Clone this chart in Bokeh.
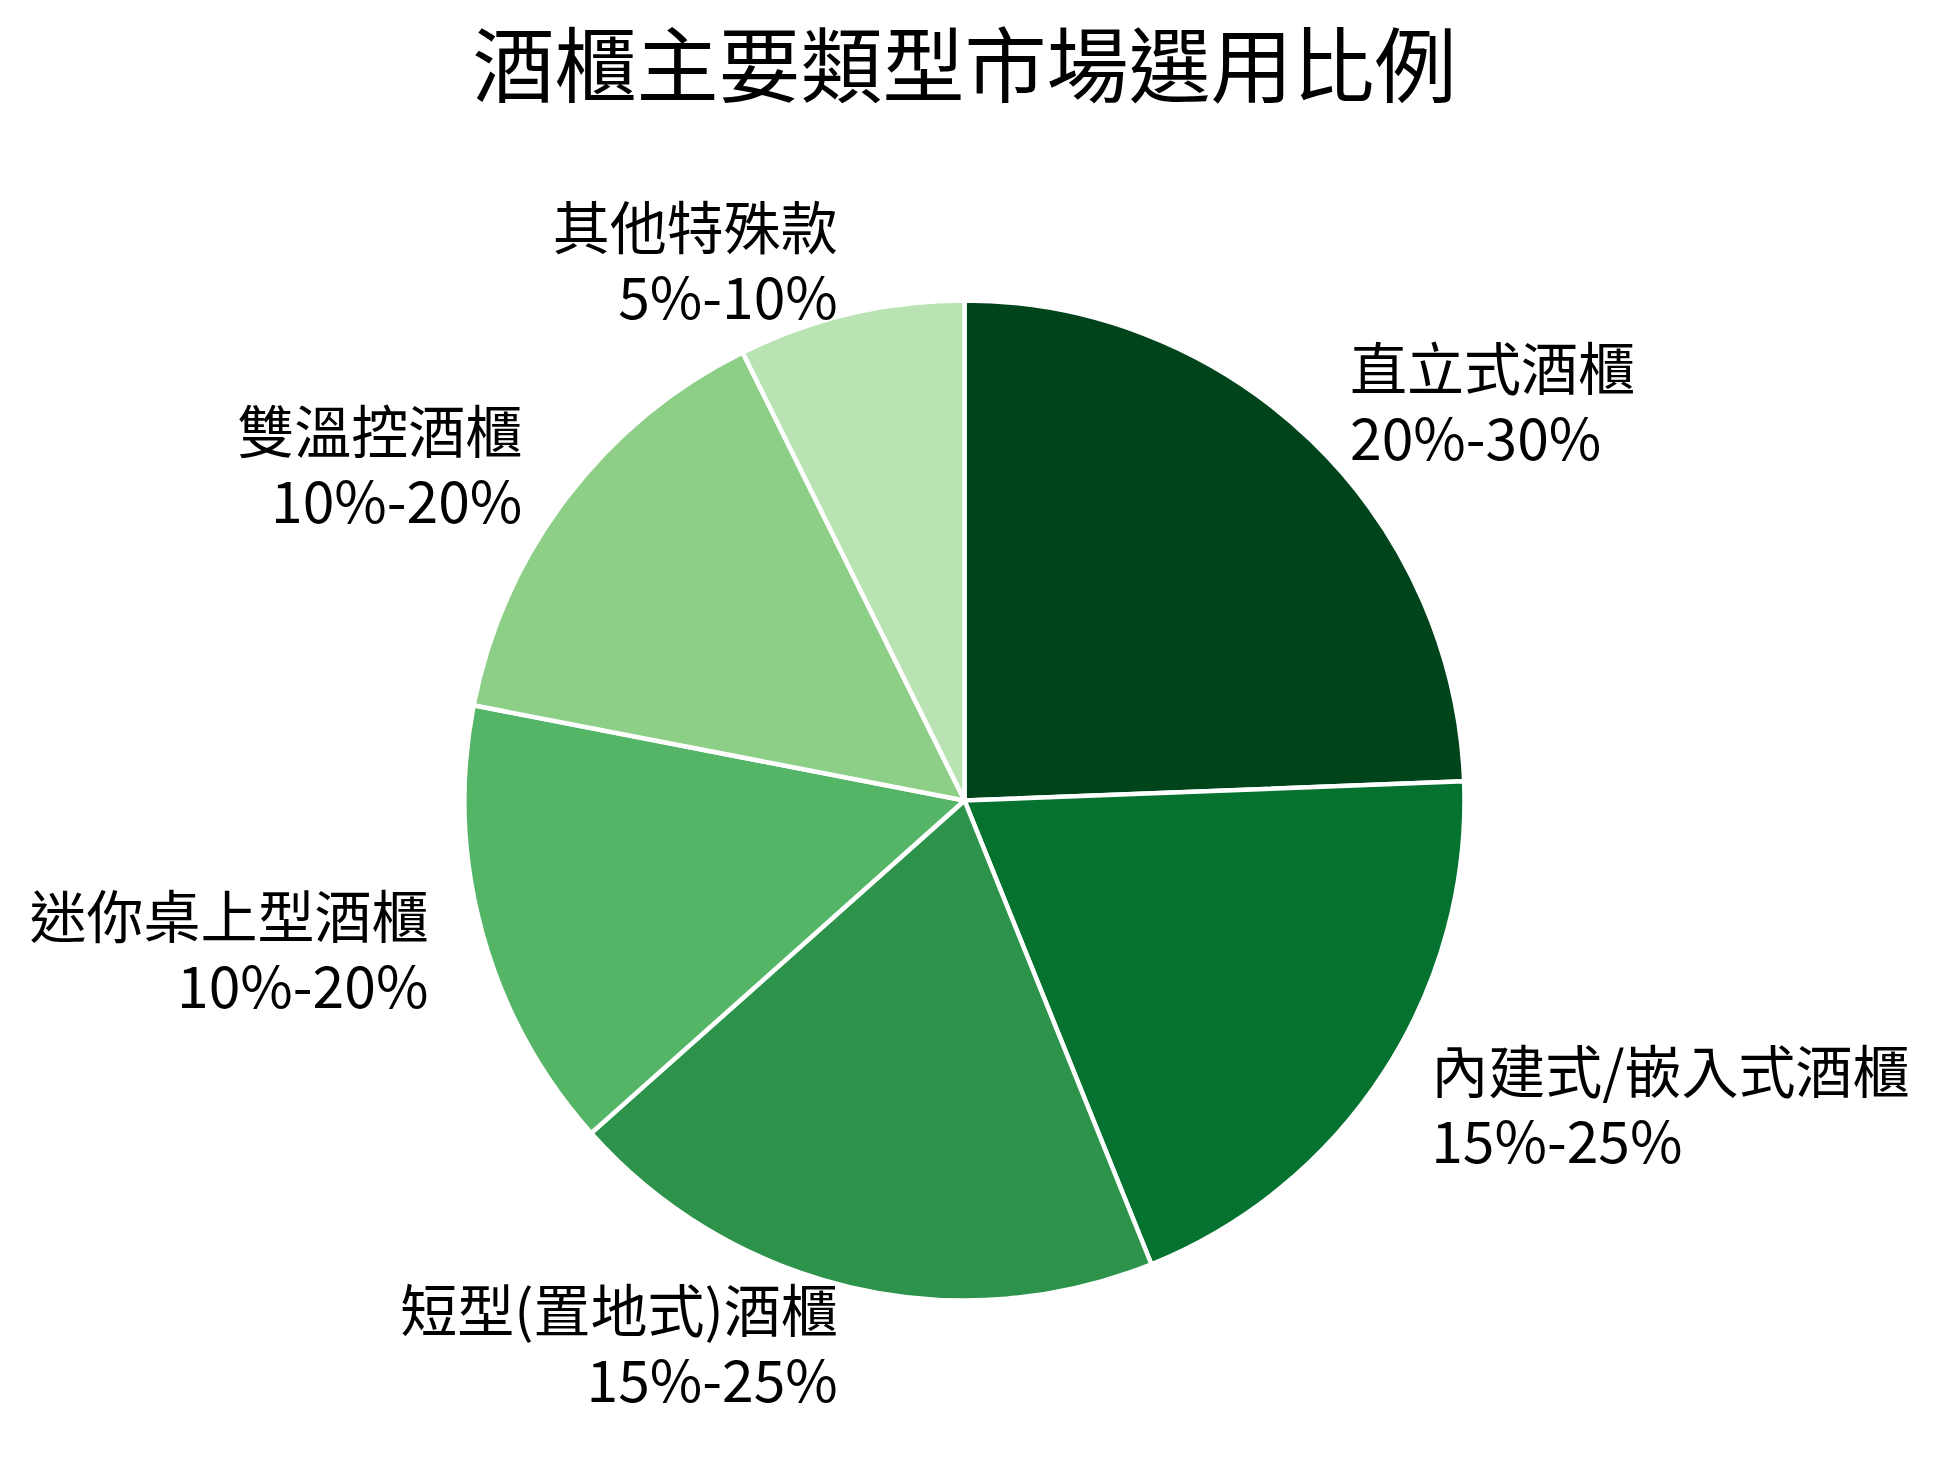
import math
from bokeh.plotting import figure
from bokeh.models import Range1d, ColumnDataSource
from bokeh.core.properties import value
from bokeh.embed import file_html
from bokeh.resources import INLINE

# ---- data ----
categories = ["直立式酒櫃", "內建式/嵌入式酒櫃", "短型(置地式)酒櫃", "迷你桌上型酒櫃", "雙溫控酒櫃", "其他特殊款"]
range_labels = ["20%-30%", "15%-25%", "15%-25%", "10%-20%", "10%-20%", "5%-10%"]
shares = [25, 20, 20, 15, 15, 7.5]
colors = ["#00441b", "#067230", "#2d934b", "#55b567", "#8ecf88", "#b9e3b3"]
title_text = "酒櫃主要類型市場選用比例"

# ---- layout (pixels) ----
W, H = 1940, 1452
MARGIN = 8
CX, CY = 972 - MARGIN, 808 - MARGIN      # pie centre inside the canvas
R_PX = 500                                # pixels per data unit (pie radius = 1)
LABEL_R = 1.112
TITLE_X_PX = 972 - MARGIN
TITLE_Y_PX = 68 - MARGIN
FONT = "Noto Sans CJK TC"

x0, x1 = -CX / R_PX, (W - CX) / R_PX
y1, y0 = CY / R_PX, -(H - CY) / R_PX

total = sum(shares)
starts, ends, mids = [], [], []
acc = 0.0
for s in shares:
    a0 = math.pi / 2 - acc / total * 2 * math.pi
    acc += s
    a1 = math.pi / 2 - acc / total * 2 * math.pi
    starts.append(a0)
    ends.append(a1)
    mids.append((a0 + a1) / 2)

lx = [LABEL_R * math.cos(m) for m in mids]
ly = [LABEL_R * math.sin(m) for m in mids]
align = ["left" if math.cos(m) > 0 else "right" for m in mids]

src = ColumnDataSource(dict(
    cat=categories, rng=range_labels, start=starts, end=ends, color=colors,
    lx=lx, ly=ly, align=align,
))

p = figure(width=W, height=H, x_range=Range1d(x0, x1), y_range=Range1d(y0, y1),
           output_backend="svg", toolbar_location=None, min_border=0,
           x_axis_location=None, y_axis_location=None)
p.grid.visible = False
p.outline_line_color = None
p.background_fill_color = "white"
p.border_fill_color = "white"

p.wedge(x=0, y=0, radius=1, start_angle="start", end_angle="end", direction="clock",
        fill_color="color", line_color="white", line_width=4.5, source=src)

p.text(x="lx", y="ly", text="cat", text_align="align", text_baseline="middle",
       y_offset=-35, text_font=value(FONT), text_font_size="57px",
       text_color="#000000", source=src)
p.text(x="lx", y="ly", text="rng", text_align="align", text_baseline="middle",
       y_offset=35, text_font=value(FONT), text_font_size="57px",
       text_color="#000000", source=src)

p.text(x=[(TITLE_X_PX - CX) / R_PX], y=[(CY - TITLE_Y_PX) / R_PX], text=[title_text],
       text_align="center", text_baseline="middle", text_font=value(FONT),
       text_font_size="82px", text_color="#000000")

open("out.html", "w").write(file_html(p, INLINE))
